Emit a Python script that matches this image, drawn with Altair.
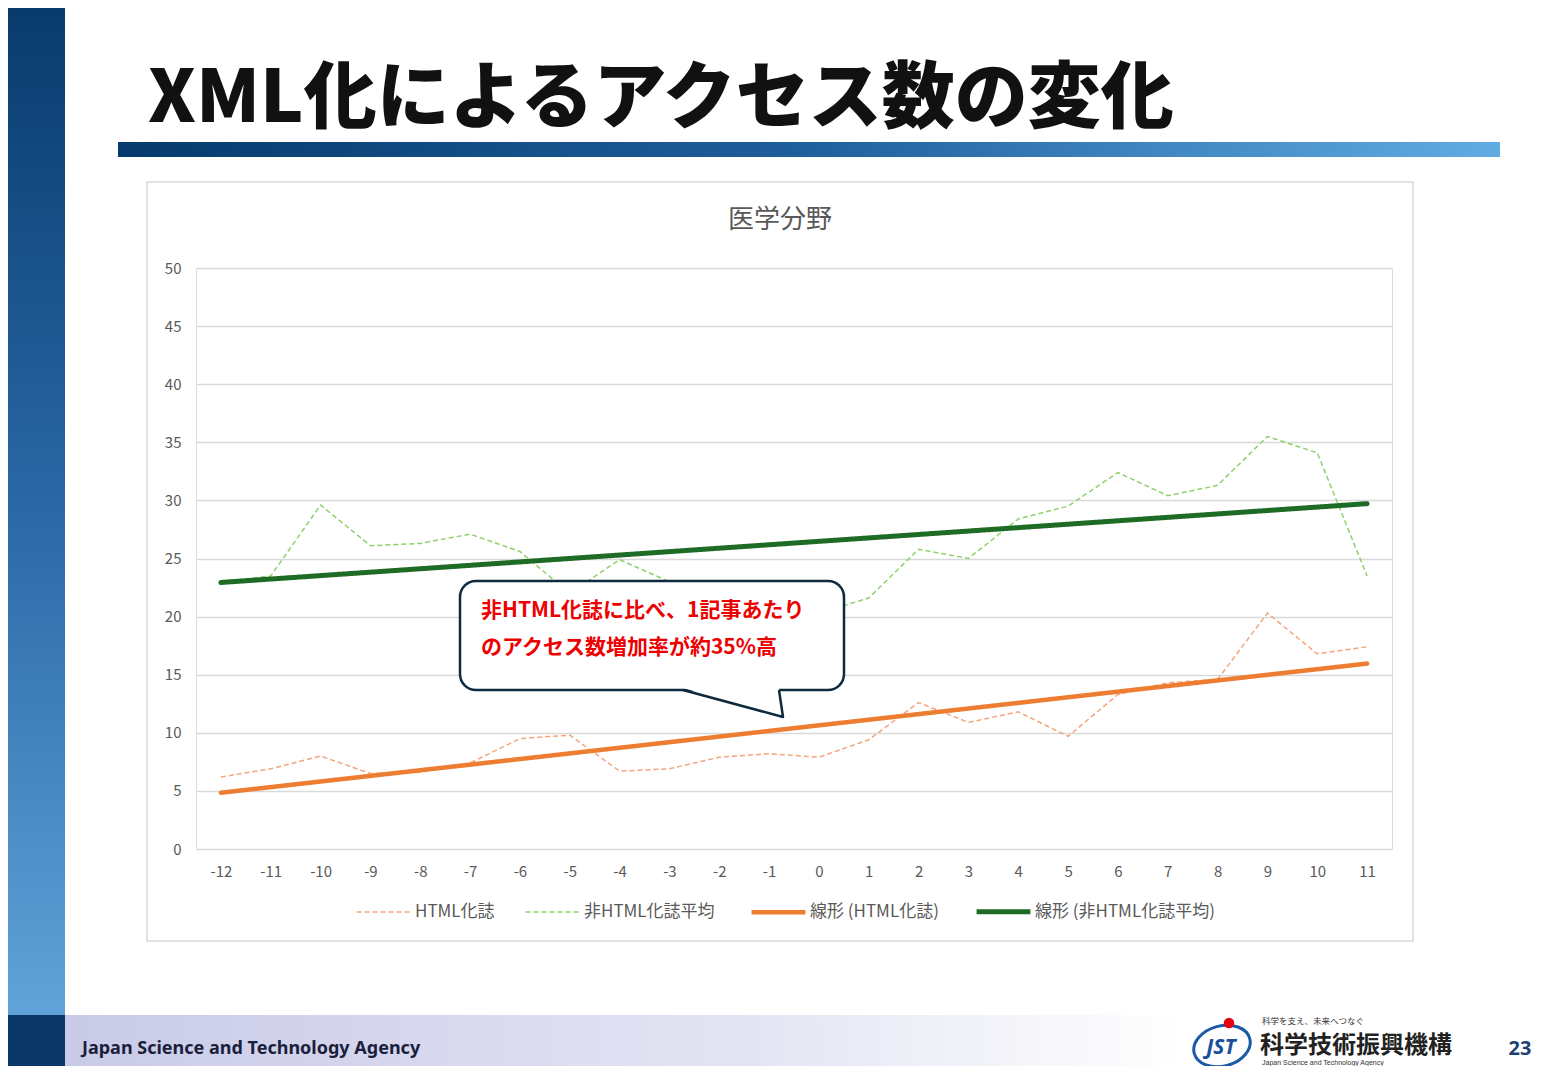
import altair as alt
import pandas as pd

# ---------------- data ----------------
months = list(range(-12, 12))
html_journals = [6.2, 6.9, 8.0, 6.5, 6.6, 7.4, 9.5, 9.8, 6.7, 6.9, 7.9, 8.2,
                 7.9, 9.4, 12.6, 10.9, 11.8, 9.7, 13.3, 14.3, 14.6, 20.3, 16.8, 17.4]
non_html_avg = [23.0, 23.5, 29.6, 26.1, 26.3, 27.1, 25.6, 22.0, 24.9, 23.0, 22.0, 21.0,
                20.3, 21.6, 25.8, 25.0, 28.4, 29.5, 32.4, 30.4, 31.3, 35.5, 34.1, 23.5]
series_names = ["HTML化誌", "非HTML化誌平均"]
trend_names = ["線形 (HTML化誌)", "線形 (非HTML化誌平均)"]
y_ticks = list(range(0, 55, 5))

slide_title = "XML化によるアクセス数の変化"
chart_title = "医学分野"
callout_lines = ["非HTML化誌に比べ、1記事あたり", "のアクセス数増加率が約35%高"]
footer_text = "Japan Science and Technology Agency"
page_no = "23"

df = pd.DataFrame({
    "x": months * 2,
    "value": html_journals + non_html_avg,
    "series": [series_names[0]] * len(months) + [series_names[1]] * len(months),
})

FONT = "Noto Sans CJK JP"
W, H = 1196, 581

domain = series_names + trend_names
color_scale = alt.Scale(domain=domain, range=["#f4a57c", "#8fd16a", "#ed7d31", "#1e6b25"])
dash_scale = alt.Scale(domain=domain, range=[[5, 3], [5, 3], [1, 0], [1, 0]])
width_scale = alt.Scale(type="ordinal", domain=domain, range=[1.5, 1.5, 4.5, 5])

legend = alt.Legend(title=None, orient="none", legendX=158, legendY=614,
                    direction="horizontal", columns=4, symbolType="stroke",
                    symbolSize=2900, labelFontSize=17, labelColor="#595959",
                    labelOffset=2, columnPadding=27, labelFont=FONT, labelLimit=400)

x_enc = alt.X("x:Q", scale=alt.Scale(domain=[-12.5, 11.5], nice=False, zero=False),
              axis=alt.Axis(values=months, labelExpr="'' + datum.value", grid=False,
                            ticks=False, domain=False,
                            labelPadding=15, labelFontSize=15, labelColor="#595959",
                            labelFont=FONT, title=None))
y_enc = alt.Y("value:Q", scale=alt.Scale(domain=[0, 50], nice=False),
              axis=alt.Axis(values=y_ticks, grid=True, gridColor="#d9d9d9", gridWidth=1.3,
                            ticks=False, domain=False, labelPadding=15, labelFontSize=15,
                            labelColor="#595959", labelFont=FONT, title=None))

enc = dict(
    x=x_enc, y=y_enc,
    color=alt.Color("series:N", scale=color_scale, legend=legend),
    strokeDash=alt.StrokeDash("series:N", scale=dash_scale, legend=legend),
    strokeWidth=alt.StrokeWidth("series:N", scale=width_scale, legend=legend),
)

lines = alt.Chart(df).mark_line().encode(**enc)
trends = (alt.Chart(df)
          .transform_regression("x", "value", groupby=["series"])
          .transform_calculate(series='"線形 (" + datum.series + ")"')
          .mark_line(strokeCap="round")
          .encode(**enc))

one = alt.Data(values=[{"k": 1}])


def rect(x, x2, y, y2, **kw):
    return alt.Chart(one).mark_rect(**kw).encode(
        x=alt.value(x), x2=alt.value(x2), y=alt.value(y), y2=alt.value(y2))


def text(x, y, t, **kw):
    kw.setdefault("font", FONT)
    kw.setdefault("baseline", "middle")
    kw.setdefault("align", "left")
    return alt.Chart(one).mark_text(text=t, **kw).encode(x=alt.value(x), y=alt.value(y))


def shape(x, y, path, **kw):
    return alt.Chart(one).mark_point(shape=path, opacity=1, **kw).encode(
        x=alt.value(x), y=alt.value(y))


def hgrad(stops):
    return alt.LinearGradient(gradient="linear", x1=0, x2=1, y1=0, y2=0,
                              stops=[alt.GradientStop(offset=o, color=c) for o, c in stops])


def vgrad(stops):
    return alt.LinearGradient(gradient="linear", x1=0, x2=0, y1=0, y2=1,
                              stops=[alt.GradientStop(offset=o, color=c) for o, c in stops])


left_bar = rect(-196, -131, -268, 747, color=vgrad([(0, "#083a6c"), (0.5, "#2a68a6"), (1, "#5fa3d8")]))
corner = rect(-196, -131, 747, 812, color="#0c3867")
footer_band = rect(-131, 1364, 747, 812,
                   color=hgrad([(0, "#c9cae7"), (0.45, "#e3e4f3"), (0.75, "#ffffff"), (1, "#ffffff")]))
underline = rect(-78, 1304, -126, -111,
                 color=hgrad([(0, "#063a6c"), (0.5, "#1f5f9d"), (1, "#61ace3")]))
border = rect(-49, 1217, -86, 673, fillOpacity=0, stroke="#d9d9d9", strokeWidth=1.5)

NAVY = "#0e2a3e"
box = rect(264, 648, 313, 422, fill="white", stroke=NAVY, strokeWidth=2.5, cornerRadius=16)
tail_fill = shape(537, 435.5, "M-1,-0.31 L0.92,-0.31 L1,0.27 Z", filled=True,
                  color="white", size=10000, strokeWidth=0)
tail_line = shape(537, 435.5, "M-1,-0.27 L1,0.27 L0.92,-0.27", filled=False,
                  stroke=NAVY, strokeWidth=2.5, size=10000, strokeJoin="round")

t_title = text(-48, -146, slide_title, baseline="alphabetic", fontSize=73,
               fontWeight=900, color="#111111")
t_chart = text(584, -48, chart_title, align="center", fontSize=26, color="#595959")
t_c1 = text(285, 343, callout_lines[0], fontSize=21, fontWeight="bold", color="#ee0000")
t_c2 = text(285, 380, callout_lines[1], fontSize=21, fontWeight="bold", color="#ee0000")
t_footer = text(-114, 781, footer_text, fontSize=18, fontWeight="bold",
                color="#1a1f3d", font="Noto Sans")
t_page = text(1324, 781, page_no, align="center", fontSize=20, fontWeight="bold",
              color="#1f3f73", font="Noto Sans")

# JST logo
logo_ellipse = shape(1026, 778, "M-1,0 A1,0.7 0 1,1 1,0 A1,0.7 0 1,1 -1,0 Z",
                     filled=False, stroke="#1b5aa6", strokeWidth=3, size=3300, angle=345)
logo_dot = shape(1033, 755, "circle", filled=True, color="#e60012", size=110)
logo_jst = text(1025, 780, "JST", align="center", fontSize=21, fontWeight="bold",
                fontStyle="italic", color="#1b4f9c", font="Noto Sans")
logo_tag = text(1066, 753, "科学を支え、未来へつなぐ", fontSize=8.5, color="#333333")
logo_name = text(1064, 778, "科学技術振興機構", fontSize=24, fontWeight="bold", color="#222222")
logo_en = text(1066, 795, "Japan Science and Technology Agency", fontSize=7, color="#333333",
               font="Liberation Sans")

chart = alt.layer(
    left_bar, corner, footer_band, underline, border,
    lines, trends,
    box, tail_fill, tail_line,
    t_title, t_chart, t_c1, t_c2, t_footer, t_page,
    logo_ellipse, logo_dot, logo_jst, logo_tag, logo_name, logo_en,
).properties(
    width=W, height=H,
    padding={"left": 188, "top": 260, "right": 156, "bottom": 217},
    autosize=alt.AutoSizeParams(type="none"),
).configure_view(strokeWidth=0).configure(font=FONT)

chart.save("out.html", embed_options={"renderer": "svg", "actions": False})
